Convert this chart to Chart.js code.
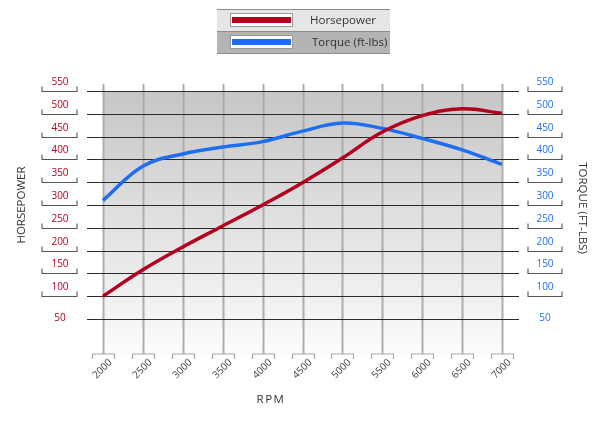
<!DOCTYPE html>
<html>
<head>
<meta charset="utf-8">
<script src="https://cdn.jsdelivr.net/npm/chart.js@4/dist/chart.umd.min.js"></script>
<style>
	html, body { margin: 0; padding: 0; background: #fff; }
	canvas { display: block; }
</style>
</head>
<body>
<canvas id="dyno" width="602" height="421"></canvas>
<script>
var rpm = [2000, 2500, 3000, 3500, 4000, 4500, 5000, 5500, 6000, 6500, 7000];
var horsepower = [100, 158, 208, 254, 300, 349, 403, 460, 496, 511, 501];
var torque = [310, 385, 412, 427, 439, 462, 480, 468, 446, 421, 389];
var powerTicks = [50, 100, 150, 200, 250, 300, 350, 400, 450, 500, 550];

var hpColor = "#b3001f";
var tqColor = "#1f6ef2";
var labelFont = "10px 'Open Sans', sans-serif";
var titleFont = "11.5px 'Open Sans', sans-serif";

function points(values) {
	return rpm.map(function (r, i) { return {x: r, y: values[i]}; });
}

// brackets under tick labels, open end facing the label
function bracket(ctx, x1, x2, y, lip) {
	ctx.beginPath();
	ctx.moveTo(x1, y + lip);
	ctx.lineTo(x1, y);
	ctx.lineTo(x2, y);
	ctx.lineTo(x2, y + lip);
	ctx.stroke();
}

var dynoDecor = {
	id: "dynoDecor",
	beforeDatasetsDraw: function (chart) {
		var ctx = chart.ctx;
		var xs = chart.scales.x, ys = chart.scales.y;
		var left = xs.getPixelForValue(rpm[0]), right = xs.getPixelForValue(rpm[rpm.length - 1]);
		var top = ys.getPixelForValue(powerTicks[powerTicks.length - 1]);
		var floor = ys.getPixelForValue(powerTicks[0]) + 35;
		ctx.save();

		// shaded plot background
		var g = ctx.createLinearGradient(0, top, 0, floor);
		g.addColorStop(0, "#c6c6c6");
		g.addColorStop(1, "#fcfcfc");
		ctx.fillStyle = g;
		ctx.fillRect(left, top, right - left, floor - top);

		// vertical rpm lines + brackets + rotated labels
		rpm.forEach(function (r) {
			var x = Math.round(xs.getPixelForValue(r)) + 0.5;
			ctx.strokeStyle = "#adadad";
			ctx.lineWidth = 2;
			ctx.beginPath();
			ctx.moveTo(x, top - 7);
			ctx.lineTo(x, floor);
			ctx.stroke();
			ctx.strokeStyle = "#a8a8a8";
			ctx.lineWidth = 1.2;
			bracket(ctx, x - 11, x + 11, floor, 5);
			ctx.save();
			ctx.translate(x - 1, floor + 15);
			ctx.rotate(-Math.PI / 4);
			ctx.fillStyle = "#444";
			ctx.font = labelFont;
			ctx.textAlign = "center";
			ctx.textBaseline = "middle";
			ctx.fillText(String(r), 0, 0);
			ctx.restore();
		});

		// horizontal lines, brackets and labels on both sides
		powerTicks.forEach(function (v, i) {
			var y = Math.round(ys.getPixelForValue(v)) + 0.5;
			ctx.strokeStyle = "#2a2a2a";
			ctx.lineWidth = 1.1;
			ctx.beginPath();
			ctx.moveTo(left - 16, y);
			ctx.lineTo(right + 17, y);
			ctx.stroke();
			ctx.font = labelFont;
			ctx.textAlign = "center";
			ctx.textBaseline = "middle";
			var ly = i === 0 ? y - 1 : y - 9;
			if (i > 0) {
				ctx.strokeStyle = "#555";
				ctx.lineWidth = 1.1;
				bracket(ctx, 42, 77, y, -5);
				bracket(ctx, 528, 562, y, -5);
			}
			ctx.fillStyle = hpColor;
			ctx.fillText(String(v), 60, ly);
			ctx.fillStyle = tqColor;
			ctx.fillText(String(v), 545, ly);
		});

		// axis titles
		ctx.fillStyle = "#333";
		ctx.font = titleFont;
		ctx.textAlign = "center";
		ctx.textBaseline = "middle";
		ctx.save();
		ctx.translate(22, 205);
		ctx.rotate(-Math.PI / 2);
		ctx.fillText("HORSEPOWER", 0, 0);
		ctx.restore();
		ctx.save();
		ctx.translate(582, 208);
		ctx.rotate(Math.PI / 2);
		ctx.fillText("TORQUE (FT-LBS)", 0, 0);
		ctx.restore();
		ctx.save();
		ctx.letterSpacing = "1.5px";
		ctx.fillText("RPM", 271, 400);
		ctx.restore();

		// legend
		var rows = [
			{label: chart.data.datasets[0].label, color: hpColor, bg: "#e6e6e6"},
			{label: chart.data.datasets[1].label, color: tqColor, bg: "#b4b4b4"}
		];
		rows.forEach(function (row, k) {
			var ry = 9 + k * 22;
			ctx.fillStyle = row.bg;
			ctx.fillRect(217, ry, 173, 22);
			ctx.fillStyle = "#fff";
			ctx.fillRect(230, ry + 4, 63, 14);
			ctx.strokeStyle = "#999";
			ctx.lineWidth = 1;
			ctx.strokeRect(230.5, ry + 4.5, 62, 13);
			ctx.fillStyle = row.color;
			ctx.fillRect(232, ry + 8, 59, 6);
			ctx.fillStyle = "#333";
			ctx.font = titleFont;
			ctx.textAlign = "left";
			ctx.fillText(row.label, 310 + k * 2, ry + 11.5);
		});
		ctx.strokeStyle = "#8c8c8c";
		ctx.lineWidth = 1;
		[9.5, 31.5, 53.5].forEach(function (y) {
			ctx.beginPath();
			ctx.moveTo(217, y);
			ctx.lineTo(390, y);
			ctx.stroke();
		});
		ctx.restore();
	}
};

new Chart("dyno", {
	type: "line",
	data: {
		datasets: [{
			label: "Horsepower",
			data: points(horsepower),
			borderColor: hpColor,
			borderWidth: 3.5,
			pointRadius: 0,
			tension: 0.4,
			clip: 10
		}, {
			label: "Torque (ft-lbs)",
			data: points(torque),
			borderColor: tqColor,
			borderWidth: 3.5,
			pointRadius: 0,
			tension: 0.4,
			clip: 10
		}]
	},
	options: {
		responsive: false,
		animation: false,
		devicePixelRatio: 1,
		layout: {padding: {left: 103, right: 100, top: 91, bottom: 102}},
		scales: {
			x: {type: "linear", min: 2000, max: 7000, display: false},
			y: {min: 50, max: 550, display: false}
		},
		plugins: {legend: {display: false}, tooltip: {enabled: false}}
	},
	plugins: [dynoDecor]
});
</script>
</body>
</html>
